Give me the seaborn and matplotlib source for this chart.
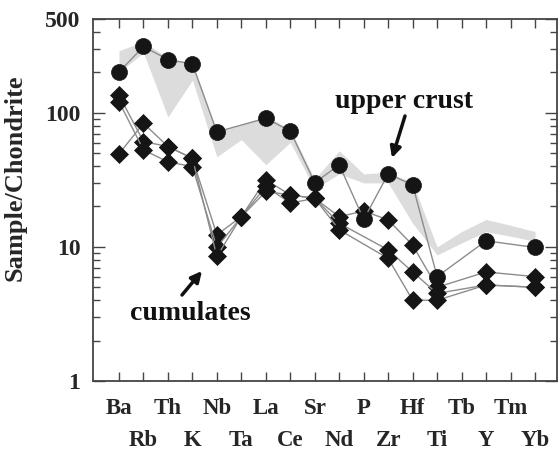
import numpy as np
import pandas as pd
import matplotlib
matplotlib.use("Agg")
import matplotlib.pyplot as plt
import seaborn as sns
from matplotlib.ticker import FixedLocator, NullFormatter, FixedFormatter

# ---------------- data ----------------
elements = ["Ba", "Rb", "Th", "K", "Nb", "Ta", "La", "Ce", "Sr", "Nd",
            "P", "Zr", "Hf", "Ti", "Tb", "Y", "Tm", "Yb"]
nan = np.nan
upper_crust = [201, 312, 249, 231, 72, nan, 91, 73, 30, 41,
               16, 35, 29, 6.0, nan, 11.1, nan, 9.9]
cumulate_a = [135, 61, 56, 45.7, 12.3, 16.8, 31.6, 24.4, 23, 16.8,
              18.5, 15.9, 10.3, 5.0, nan, 6.5, nan, 6.0]
cumulate_b = [121, 52.8, 43, 39.7, 9.9, 16.8, 28.2, 21.2, 23, 15.0,
              nan, 9.5, 6.5, 4.5, nan, 5.2, nan, 5.0]
cumulate_c = [49.4, 83.5, 56, 45.7, 8.5, 16.8, 25.9, 24.4, 23, 13.4,
              nan, 8.2, 4.0, 4.0, nan, 5.2, nan, 5.0]
band_upper = [290, 340, 255, 235, 72, 81, 95, 75, 32, 52,
              35, 36, 30, 10, 13, 16, 14.5, 13]
band_lower = [200, 280, 93, 175, 47, 63, 41, 60, 27, 35,
              30, 30, 15, 8.7, 10.7, 13, 12, 11]
y_ticks = [1, 10, 100, 500]
y_ticklabels = ["1", "10", "100", "500"]

# ---------------- tidy frames ----------------
pos = np.arange(len(elements))
uc = pd.DataFrame({"pos": pos, "value": upper_crust}).dropna()
cum = pd.concat([
    pd.DataFrame({"pos": pos, "value": v, "series": n})
    for n, v in (("a", cumulate_a), ("b", cumulate_b), ("c", cumulate_c))
]).dropna()

# ---------------- style ----------------
sns.set_theme(style="white")
plt.rcParams["font.family"] = ["Liberation Serif", "DejaVu Serif"]
plt.rcParams["font.weight"] = "bold"
plt.rcParams["axes.labelweight"] = "bold"

W, H = 558, 453
fig = plt.figure(figsize=(W / 100, H / 100), dpi=100)
L, R, T, B = 93, 557, 19, 381
ax = fig.add_axes([L / W, 1 - B / H, (R - L) / W, (B - T) / H])

line_c = "#8c8c8c"
mark_c = "#151515"

ax.fill_between(pos, band_lower, band_upper, color="#dcdcdc", lw=0, zorder=0)

sns.lineplot(data=cum, x="pos", y="value", units="series", estimator=None,
             color=line_c, lw=1.0, marker="D", markersize=9,
             markerfacecolor=mark_c, markeredgecolor=mark_c,
             markeredgewidth=0.5, ax=ax, zorder=3, legend=False)
sns.lineplot(data=uc, x="pos", y="value", estimator=None,
             color=line_c, lw=1.0, marker="o", markersize=11.5,
             markerfacecolor=mark_c, markeredgecolor=mark_c,
             markeredgewidth=0.5, ax=ax, zorder=4, legend=False)

ax.set_yscale("log")
ax.set_ylim(1, 500)
ax.set_xlim(-(119 - L) / 24.47, (R - 119) / 24.47)

# y ticks
ax.yaxis.set_major_locator(FixedLocator(y_ticks))
ax.yaxis.set_major_formatter(FixedFormatter(y_ticklabels))
minors = [m * 10 ** e for e in range(0, 3) for m in range(2, 10)
          if m * 10 ** e < 500]
ax.yaxis.set_minor_locator(FixedLocator(minors))
ax.yaxis.set_minor_formatter(NullFormatter())
ax.tick_params(axis="y", which="major", direction="in", length=8.5,
               width=1.0, left=True, right=True, labelsize=17, pad=9,
               color="#444444")
ax.tick_params(axis="y", which="minor", direction="in", length=5,
               width=1.0, left=True, right=True, color="#444444")

# x ticks: two rows of labels
ax.xaxis.set_major_locator(FixedLocator(pos[0::2]))
ax.xaxis.set_major_formatter(FixedFormatter(elements[0::2]))
ax.xaxis.set_minor_locator(FixedLocator(pos[1::2]))
ax.xaxis.set_minor_formatter(FixedFormatter(elements[1::2]))
ax.tick_params(axis="x", which="both", direction="in", length=6.5,
               width=1.0, top=True, bottom=True, labelsize=16.5,
               color="#444444")
ax.tick_params(axis="x", which="major", pad=12)
ax.tick_params(axis="x", which="minor", pad=35)
for lab in ax.get_xticklabels(which="both") + ax.get_yticklabels():
    lab.set_fontweight("bold")

ax.set_xlabel("")
ax.set_ylabel("")
fig.text(15 / W, 1 - 178 / H, "Sample/Chondrite", rotation=90,
         ha="center", va="center", fontsize=19, fontweight="bold")

for s in ax.spines.values():
    s.set_color("#444444")
    s.set_linewidth(1.3)

# annotations
def af(px, py):
    return ((px - L) / (R - L), (B - py) / (B - T))

ax.text(*af(404, 101), "upper crust", transform=ax.transAxes, ha="center",
        va="center", fontsize=20, fontweight="bold", color="#111111")
ax.annotate("", xy=af(392, 158), xytext=af(405, 116), xycoords="axes fraction",
            textcoords="axes fraction",
            arrowprops=dict(arrowstyle="-|>", color="#111111", lw=2.5,
                            mutation_scale=16, shrinkA=0, shrinkB=0))
ax.text(*af(190, 314), "cumulates", transform=ax.transAxes, ha="center",
        va="center", fontsize=20, fontweight="bold", color="#111111")
ax.annotate("", xy=af(202, 271), xytext=af(182, 295), xycoords="axes fraction",
            textcoords="axes fraction",
            arrowprops=dict(arrowstyle="-|>", color="#111111", lw=2.5,
                            mutation_scale=16, shrinkA=0, shrinkB=0))

fig.savefig("out.png", dpi=100)
